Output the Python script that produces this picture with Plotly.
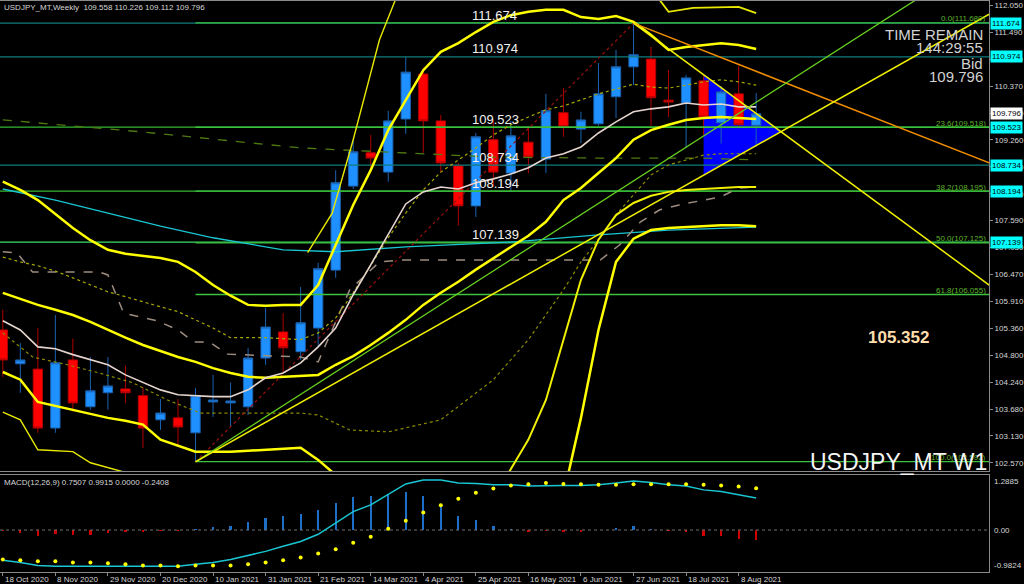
import plotly.graph_objects as go

# ---------------- data ----------------
tick_labels = ["18 Oct 2020", "8 Nov 2020", "29 Nov 2020", "20 Dec 2020", "10 Jan 2021",
               "31 Jan 2021", "21 Feb 2021", "14 Mar 2021", "4 Apr 2021", "25 Apr 2021",
               "16 May 2021", "6 Jun 2021", "27 Jun 2021", "18 Jul 2021", "8 Aug 2021"]
tick_bars = [0, 3, 6, 9, 12, 15, 18, 21, 24, 27, 30, 33, 36, 39, 42]

bars = list(range(44))
opens = [105.32, 104.62, 104.51, 103.29, 104.70, 103.73, 104.02, 104.10, 103.96, 103.46,
         103.50, 103.19, 103.83, 103.81, 103.73, 104.74, 105.28, 104.87, 105.36, 106.56,
         108.30, 108.99, 108.59, 109.69, 110.62, 109.65, 108.72, 107.89, 109.26, 108.57,
         109.21, 108.86, 109.82, 109.48, 109.59, 110.15, 110.77, 110.93, 110.08, 110.02,
         110.48, 109.61, 110.21, 109.558]
highs = [105.74, 105.05, 105.36, 105.63, 105.14, 104.76, 104.76, 104.58, 104.14, 103.89,
         103.89, 104.12, 104.39, 104.23, 104.95, 105.78, 105.67, 106.21, 106.71, 108.63,
         109.26, 109.36, 109.86, 110.97, 110.75, 109.77, 108.78, 109.40, 109.67, 109.65,
         109.50, 110.21, 110.33, 109.84, 110.85, 111.12, 111.674, 111.18, 110.70, 110.60,
         110.59, 110.37, 110.80, 110.226]
lows = [104.35, 104.02, 103.19, 103.19, 103.63, 103.67, 103.67, 103.81, 102.88, 103.25,
        102.94, 102.59, 103.52, 103.33, 103.56, 104.60, 104.45, 104.70, 104.97, 106.40,
        108.24, 108.59, 108.39, 109.38, 108.99, 108.59, 107.48, 107.66, 108.28, 108.18,
        108.57, 108.57, 109.32, 109.19, 109.55, 109.71, 110.39, 109.55, 109.73, 109.09,
        109.36, 109.18, 109.50, 109.112]
closes = [104.70, 104.70, 103.29, 104.64, 103.81, 104.06, 104.16, 104.02, 103.29, 103.60,
          103.31, 103.96, 103.87, 103.85, 104.74, 105.38, 104.95, 105.47, 106.59, 108.37,
          109.01, 108.88, 109.65, 110.66, 109.65, 108.78, 107.89, 109.32, 108.59, 109.34,
          108.90, 109.86, 109.53, 109.67, 110.21, 110.77, 111.02, 110.13, 110.04, 110.54,
          109.73, 110.25, 109.57, 109.796]

ma_fast = [105.51, 105.32, 104.97, 104.93, 104.81, 104.70, 104.60, 104.39, 104.23, 104.08,
           103.98, 103.96, 103.94, 103.94, 104.08, 104.33, 104.43, 104.64, 104.97, 105.36,
           106.05, 106.67, 107.29, 107.93, 108.18, 108.28, 108.24, 108.37, 108.45, 108.55,
           108.68, 108.88, 108.97, 109.11, 109.40, 109.63, 109.84, 109.90, 109.94, 110.02,
           109.98, 110.00, 109.94, 109.94]
bb_upper = [108.39, 108.22, 108.01, 107.72, 107.43, 107.18, 106.98, 106.90, 106.85, 106.81,
            106.73, 106.52, 106.25, 106.03, 105.84, 105.82, 105.84, 105.84, 106.25, 107.08,
            107.91, 108.63, 109.46, 110.08, 110.70, 111.08, 111.26, 111.49, 111.70, 111.84,
            111.91, 111.95, 111.95, 111.80, 111.76, 111.82, 111.70, 111.43, 111.12, 111.18,
            111.22, 111.26, 111.22, 111.14]
bb_mid = [106.83, 106.73, 106.65, 106.54, 106.40, 106.25, 106.11, 106.01, 105.90, 105.80,
          105.70, 105.53, 105.36, 105.16, 105.16, 105.16, 105.14, 105.12, 105.26, 105.57,
          106.09, 106.67, 107.23, 107.74, 108.22, 108.59, 108.84, 109.09, 109.36, 109.57,
          109.73, 109.88, 109.96, 110.08, 110.21, 110.31, 110.41, 110.35, 110.33, 110.39,
          110.46, 110.50, 110.46, 110.39]
bb_lower = [106.09, 105.96, 105.84, 105.74, 105.63, 105.49, 105.32, 105.16, 105.01, 104.89,
            104.76, 104.66, 104.53, 104.43, 104.35, 104.33, 104.35, 104.37, 104.39, 104.60,
            104.78, 105.01, 105.26, 105.53, 105.84, 106.09, 106.32, 106.57, 106.81, 107.04,
            107.27, 107.56, 108.01, 108.26, 108.57, 108.88, 109.26, 109.46, 109.57, 109.67,
            109.71, 109.73, 109.71, 109.69]

env_low_a_x = [0, 1, 2, 3, 4, 5, 6, 7, 8, 9, 10, 11, 12, 13, 14, 15, 16, 17, 18, 18.8]
env_low_a_y = [104.45, 104.29, 103.83, 103.75, 103.67, 103.58, 103.50, 103.44, 103.36, 103.05,
               102.92, 102.80, 102.80, 102.80, 102.82, 102.84, 102.86, 102.88, 102.63, 102.38]
env_low_b_x = [32.3, 33, 34, 35, 36, 37, 38, 39, 40, 41, 42, 43]
env_low_b_y = [102.38, 103.50, 105.32, 106.73, 107.21, 107.39, 107.43, 107.45, 107.47, 107.49,
               107.49, 107.47]
outer_low_a_x = [0, 1, 2, 3, 4, 5, 6.9]
outer_low_a_y = [103.62, 103.46, 102.84, 102.82, 102.80, 102.57, 102.38]
outer_low_b_x = [28.9, 30, 31, 32, 33, 34, 35, 36, 37, 38, 39, 40, 41, 42, 43]
outer_low_b_y = [102.38, 103.05, 103.87, 105.12, 106.36, 107.19, 107.70, 107.95, 108.10, 108.18,
                 108.22, 108.24, 108.26, 108.28, 108.28]
outer_up_a_x = [17.4, 18.8, 20, 21.5, 22.4]
outer_up_a_y = [106.92, 107.74, 109.26, 111.33, 112.15]
outer_up_b_x = [37.5, 38, 39.4, 42, 43]
outer_up_b_y = [112.15, 111.91, 111.99, 112.01, 111.88]

kijun_x = [0, 0.8, 1.7, 5.5, 6, 6.9, 8.8, 10, 10.9, 11.8, 12.8, 17, 18, 18.8, 19.8, 21.5, 22.8,
           34.1, 35.2, 36.4, 37.5, 38.6, 40, 41, 42, 43]
kijun_y = [106.94, 106.92, 106.52, 106.52, 106.46, 105.67, 105.51, 105.32, 105.07, 105.07,
           104.82, 104.76, 104.66, 105.32, 106.15, 106.73, 106.77, 106.77, 107.08, 107.56,
           107.81, 107.91, 108.01, 108.08, 108.26, 108.28]
cyan_ma_x = [0, 3, 6, 9, 12, 15, 16, 19, 23, 29, 34, 38, 43]
cyan_ma_y = [108.24, 108.01, 107.74, 107.47, 107.23, 107.04, 106.98, 106.94, 107.04, 107.14,
             107.29, 107.39, 107.45]
slow_ma_x = [0, 8, 17, 23, 28, 34, 40, 43]
slow_ma_y = [109.67, 109.42, 109.09, 108.99, 108.90, 108.88, 108.88, 108.84]
dotted_low_x = [0, 1.7, 3.7, 5.5, 7.4, 9.4, 11.3, 13.1, 17, 18, 19.8, 22, 25, 28, 30, 32, 33,
                34, 35, 36, 37, 38, 39, 40, 41, 43]
dotted_low_y = [105.26, 104.76, 104.60, 104.43, 104.23, 103.87, 103.60, 103.60, 103.60, 103.56,
                103.25, 103.21, 103.46, 104.29, 105.12, 106.15, 106.73, 107.19, 107.70, 108.12,
                108.53, 108.74, 108.84, 108.94, 108.97, 108.97]

# trend lines (bar index, price)
tl_orange_x, tl_orange_y = [36, 56.3], [111.674, 108.78]
tl_down_x, tl_down_y = [36, 56.3], [111.674, 106.25]
tl_green_x, tl_green_y = [11, 56.3], [102.59, 113.13]
tl_up_x, tl_up_y = [11, 56.3], [102.59, 111.86]
fib_diag_x, fib_diag_y = [11, 36], [102.59, 111.674]
tri_x = [40, 40, 44.4]
tri_y = [110.61, 108.52, 109.43]

levels = [111.674, 110.974, 109.523, 108.734, 108.194, 107.139]
level_colors = ["#0E7C7C", "#0E7C7C", "#33B833", "#0E7C7C", "#33B833", "#3CE060"]
fib_start = 11
fib_texts = ["0.0(111.680)", "23.6(109.518)", "38.2(108.195)", "50.0(107.125)",
             "61.8(106.055)", "100.0(102.592)"]
fib_prices = [111.680, 109.518, 108.195, 107.125, 106.055, 102.592]
bid = 109.796

price_ticks = [112.050, 111.490, 110.930, 110.370, 109.810, 109.260, 108.700, 108.140, 107.590,
               107.030, 106.470, 105.910, 105.360, 104.800, 104.240, 103.680, 103.130, 102.570]

macd_line = [-0.71, -0.76, -0.83, -0.85, -0.85, -0.85, -0.85, -0.85, -0.85, -0.85,
             -0.85, -0.80, -0.76, -0.69, -0.59, -0.50, -0.38, -0.27, -0.10, 0.17,
             0.43, 0.59, 0.83, 1.08, 1.17, 1.17, 1.10, 1.09, 1.06, 1.06,
             1.03, 1.04, 1.04, 1.04, 1.06, 1.10, 1.15, 1.11, 1.06, 1.03,
             0.94, 0.90, 0.83, 0.75]
macd_signal = [-0.69, -0.71, -0.73, -0.73, -0.76, -0.76, -0.78, -0.80, -0.83, -0.83,
               -0.85, -0.83, -0.83, -0.83, -0.80, -0.76, -0.71, -0.64, -0.55, -0.45,
               -0.30, -0.16, 0.03, 0.22, 0.41, 0.58, 0.73, 0.87, 0.97, 1.04,
               1.07, 1.10, 1.08, 1.07, 1.06, 1.06, 1.07, 1.07, 1.07, 1.07,
               1.06, 1.04, 1.02, 0.98]
macd_hist = [-0.03, -0.07, -0.14, -0.10, -0.12, -0.12, -0.07, -0.04, -0.04, -0.02,
             -0.02, 0.03, 0.07, 0.09, 0.18, 0.28, 0.32, 0.38, 0.46, 0.63,
             0.77, 0.80, 0.85, 0.88, 0.79, 0.59, 0.34, 0.24, 0.10, 0.03,
             -0.05, -0.02, -0.05, -0.05, 0.0, 0.05, 0.09, 0.03, -0.03, -0.05,
             -0.13, -0.14, -0.22, -0.24]
macd_top, macd_bottom = 1.2885, -0.9824

# ---------------- figure ----------------
X_MIN, X_MAX = -0.16, 56.29
Y_MIN, Y_MAX = 102.40, 112.133
FONT = "Liberation Sans"
fig = go.Figure()

fig.add_trace(go.Candlestick(
    x=bars, open=opens, high=highs, low=lows, close=closes,
    increasing=dict(line=dict(color="#1B62B0", width=1), fillcolor="#1E90FF"),
    decreasing=dict(line=dict(color="#B00000", width=1), fillcolor="#FF0000"),
    whiskerwidth=0, showlegend=False, hoverinfo="skip", xaxis="x", yaxis="y"))


def line(x, y, color, width=1.0, dash="solid"):
    fig.add_trace(go.Scatter(x=x, y=y, mode="lines", line=dict(color=color, width=width, dash=dash),
                             showlegend=False, hoverinfo="skip", xaxis="x", yaxis="y"))


# horizontal levels
for lv, c in zip(levels, level_colors):
    line([X_MIN, X_MAX], [lv, lv], c, 1.3)
for fp in fib_prices:
    line([fib_start, X_MAX], [fp, fp], "#3CC23C", 1.3)

line(slow_ma_x, slow_ma_y, "#4F7A10", 1.3, "dash")
line(cyan_ma_x, cyan_ma_y, "#19C6D2", 1.3)
line(kijun_x, kijun_y, "#9C8C80", 1.5, "dash")
line(dotted_low_x, dotted_low_y, "#8C8C00", 1.2, "dot")
line(bars, bb_mid, "#A8A800", 1.2, "dot")
line(fib_diag_x, fib_diag_y, "#9A1010", 1.2, "dot")
line(outer_low_a_x, outer_low_a_y, "#E8E800", 1.4)
line(outer_low_b_x, outer_low_b_y, "#F0F000", 2.0)
line(outer_up_a_x, outer_up_a_y, "#E8E800", 1.4)
line(outer_up_b_x, outer_up_b_y, "#E8E800", 1.8)
line(env_low_a_x, env_low_a_y, "#FFFF00", 2.5)
line(env_low_b_x, env_low_b_y, "#FFFF00", 2.5)
line(bars, bb_upper, "#FFFF00", 2.5)
line(bars, bb_lower, "#FFFF00", 2.5)
line(bars, ma_fast, "#E6D5CF", 1.6)
line(tl_orange_x, tl_orange_y, "#F08C00", 1.5)
line(tl_down_x, tl_down_y, "#F0F000", 1.5)
line(tl_green_x, tl_green_y, "#66D21E", 1.3)
line(tl_up_x, tl_up_y, "#F0F000", 1.5)

# MACD
fig.add_trace(go.Bar(x=bars, y=macd_hist, width=0.13,
                     marker=dict(color=["#1E6FC8" if v >= 0 else "#D00000" for v in macd_hist], line=dict(width=0)),
                     showlegend=False, hoverinfo="skip", xaxis="x2", yaxis="y2"))
fig.add_trace(go.Scatter(x=[X_MIN, X_MAX], y=[0, 0], mode="lines", line=dict(color="#707070", width=1, dash="dot"),
                         showlegend=False, hoverinfo="skip", xaxis="x2", yaxis="y2"))
fig.add_trace(go.Scatter(x=bars, y=macd_line, mode="lines", line=dict(color="#19C6D2", width=1.5),
                         showlegend=False, hoverinfo="skip", xaxis="x2", yaxis="y2"))
fig.add_trace(go.Scatter(x=bars, y=macd_signal, mode="markers", marker=dict(color="#FFFF00", size=4),
                         showlegend=False, hoverinfo="skip", xaxis="x2", yaxis="y2"))

# blue triangle (below candles)
path = "M {} {} L {} {} L {} {} Z".format(tri_x[0], tri_y[0], tri_x[1], tri_y[1], tri_x[2], tri_y[2])
shapes = [dict(type="path", path=path, xref="x", yref="y", fillcolor="#0000FF",
               line=dict(width=0), layer="below")]

ann = []
small = dict(family=FONT, size=8, color="#D6D6D6")
ann.append(dict(text="USDJPY_MT,Weekly  {:.3f} {:.3f} {:.3f} {:.3f}".format(opens[-1], highs[-1], lows[-1], closes[-1]),
                xref="paper", yref="paper", x=0, y=1, xanchor="left", yanchor="top", xshift=2,
                showarrow=False, font=small))
ann.append(dict(text="MACD(12,26,9) 0.7507 0.9915 0.0000 -0.2408", xref="paper", yref="y2 domain",
                x=0, y=1, xanchor="left", yanchor="top", xshift=2, yshift=-1, showarrow=False, font=small))
for b, t in zip(tick_bars, tick_labels):
    ann.append(dict(text=t, xref="x2", yref="paper", x=b, y=0, xanchor="left", yanchor="top",
                    xshift=0, yshift=-1, showarrow=False, font=small))
# in-chart level labels
for lv in levels:
    ann.append(dict(text="{:.3f}".format(lv), xref="x", yref="y", x=26.67, y=lv, xanchor="left",
                    yanchor="middle", yshift=8, showarrow=False,
                    font=dict(family=FONT, size=13, color="#F2F2F2")))
# axis boxes
for lv in levels:
    ann.append(dict(text="{:.3f}".format(lv), xref="paper", yref="y", x=1, y=lv, xanchor="left",
                    yanchor="middle", xshift=1, showarrow=False, bgcolor="#00FFFF", borderpad=1,
                    font=dict(family=FONT, size=8, color="#000000")))
ann.append(dict(text="{:.3f}".format(bid), xref="paper", yref="y", x=1, y=bid, xanchor="left",
                yanchor="middle", xshift=1, showarrow=False, bgcolor="#FFFFFF", borderpad=1,
                font=dict(family=FONT, size=8, color="#000000")))
# fib labels
for t, fp in zip(fib_texts, fib_prices):
    ann.append(dict(text=t, xref="paper", yref="y", x=1, y=fp, xanchor="right", yanchor="middle",
                    xshift=-1, yshift=4, showarrow=False, font=dict(family=FONT, size=8, color="#5DB32C")))
# MACD axis labels
for v, ya in [(macd_top, "top"), (0.0, "middle"), (macd_bottom, "bottom")]:
    ann.append(dict(text="{:.4f}".format(v) if v != 0 else "0.00", xref="paper", yref="y2", x=1, y=v,
                    xanchor="left", yanchor=ya, xshift=3, showarrow=False, font=small))
# info texts
info = dict(family=FONT, size=15, color="#D2D2D2")
for txt, yp in [("TIME REMAIN", 0.9405), ("144:29:55", 0.9194), ("Bid", 0.8914), ("109.796", 0.8686)]:
    ann.append(dict(text=txt, xref="paper", yref="paper", x=1, y=yp, xanchor="right", yanchor="middle",
                    xshift=-4, showarrow=False, font=info))
ann.append(dict(text="USDJPY_MT W1", xref="paper", yref="paper", x=1, y=0.1926, xanchor="right",
                yanchor="middle", xshift=0, showarrow=False,
                font=dict(family=FONT, size=23, color="#F5F5F5")))
ann.append(dict(text="<b>105.352</b>", xref="x", yref="y", x=51.15, y=105.16, xanchor="center",
                yanchor="middle", showarrow=False, font=dict(family=FONT, size=17, color="#FFDEAD")))

axis_common = dict(showgrid=False, zeroline=False, showline=True, mirror=True, linecolor="#8A8A8A",
                   linewidth=1)
fig.update_layout(
    width=1024, height=584,
    margin=dict(l=0, r=35, t=1, b=12),
    paper_bgcolor="#000000", plot_bgcolor="#000000",
    showlegend=False, boxgap=0.24, bargap=0,
    xaxis=dict(domain=[0, 1], range=[X_MIN, X_MAX], anchor="y", showticklabels=False, ticks="",
               rangeslider=dict(visible=False), **axis_common),
    yaxis=dict(domain=[0.1769, 1], range=[Y_MIN, Y_MAX], side="right", anchor="x",
               tickvals=price_ticks, ticktext=["{:.3f}".format(v) for v in price_ticks],
               ticks="outside", ticklen=3, tickcolor="#8A8A8A",
               tickfont=dict(family=FONT, size=8, color="#D6D6D6"), **axis_common),
    xaxis2=dict(domain=[0, 1], range=[X_MIN, X_MAX], anchor="y2", tickvals=tick_bars,
                showticklabels=False, ticks="outside", ticklen=3, tickcolor="#8A8A8A", **axis_common),
    yaxis2=dict(domain=[0, 0.1699], range=[macd_bottom, macd_top], side="right", anchor="x2",
                showticklabels=False, ticks="", **axis_common),
    shapes=shapes, annotations=ann,
)

fig.write_html("out.html", config={"displayModeBar": False, "staticPlot": True},
               post_script="document.body.style.margin='0';document.body.style.overflow='hidden';"
                           "document.body.style.background='#000';")
